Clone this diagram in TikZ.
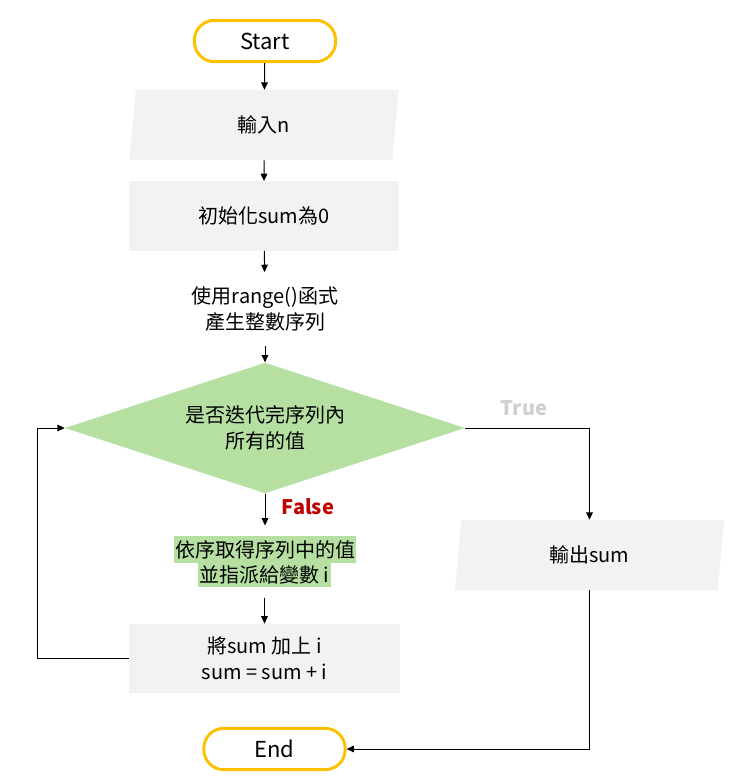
\documentclass[tikz,border=0pt]{standalone}
\usepackage{fontspec}
\setmainfont{Noto Sans CJK TC}
\usetikzlibrary{shapes.geometric,arrows.meta}
\definecolor{termyellow}{RGB}{255,192,0}
\definecolor{boxgray}{RGB}{242,242,242}
\definecolor{decgreen}{RGB}{181,224,162}
\definecolor{truegray}{RGB}{208,206,206}
\definecolor{falsered}{RGB}{192,0,0}

\begin{document}
\begin{tikzpicture}[x=0.75pt, y=-0.75pt, font=\fontsize{15}{19.5}\selectfont]
    \useasboundingbox (0, 0) rectangle (739, 781);
    \tikzset{TermNode/.style={rectangle, rounded corners=15pt, draw=termyellow, line width=2.2pt, fill=white, minimum width=106pt, minimum height=31pt, font=\fontsize{16.5}{20}\selectfont}}
    \tikzset{IONode/.style={trapezium, trapezium left angle=77, trapezium right angle=103, trapezium stretches body, fill=boxgray, minimum width=202pt, minimum height=52.5pt}}
    \tikzset{ProcessNode/.style={rectangle, fill=boxgray, minimum width=203pt, minimum height=52pt, align=center}}
    \tikzset{DecisionNode/.style={diamond, fill=decgreen, aspect=3.08, minimum width=300pt, minimum height=98pt, inner sep=0pt, align=center}}
    \tikzset{HighlightNode/.style={rectangle, fill=decgreen, inner xsep=1pt, inner ysep=0pt, outer ysep=8pt}}
    \tikzset{Connection/.style={-{Triangle[length=5.5pt, width=5pt]}, line width=0.75pt}}
    \node[TermNode] (start) at (265, 41) {Start}; % start
    \node[IONode] (input-n) at (264, 125) {輸入n}; % input
    \node[ProcessNode] (init-sum) at (264, 216) {初始化sum為0}; % sum = 0
    \node[align=center, minimum height=55pt] (make-range) at (265, 309) {使用range()函式\\產生整數序列}; % range()
    \node[DecisionNode] (check-done) at (265, 428) {是否迭代完序列內\\所有的值}; % loop test
    \node[HighlightNode, minimum height=20pt] (take-1) at (265, 549.5) {依序取得序列中的值}; % next value
    \node[HighlightNode, minimum height=18pt] (take-2) at (264.5, 575) {並指派給變數 i}; % assign i
    \node[ProcessNode] (add-i) at (264.5, 658.5) {將sum 加上 i\\sum = sum + i}; % sum += i
    \node[IONode] (output-sum) at (589.5, 555) {輸出sum}; % output
    \node[TermNode] (end) at (274.5, 749) {End}; % end
    \node[font=\fontsize{15}{18}\bfseries, text=truegray] (true-label) at (524, 408) {True};
    \node[font=\fontsize{15}{18}\bfseries, text=falsered] (false-label) at (308, 507) {False};

    \draw[Connection] (start) -- (input-n);
    \draw[Connection] (input-n) -- (init-sum);
    \draw[Connection] (init-sum) -- (make-range);
    \draw[Connection] (make-range) -- (check-done);
    \draw[Connection] (check-done) -- (take-1);
    \draw[Connection] (take-2) -- (add-i);
    \draw[Connection] (add-i.west) -- ++(-91, 0) |- (check-done.west);
    \draw[Connection] (check-done.east) -| (output-sum.north);
    \draw[Connection] (output-sum.south) |- (end.east);
\end{tikzpicture}
\end{document}
